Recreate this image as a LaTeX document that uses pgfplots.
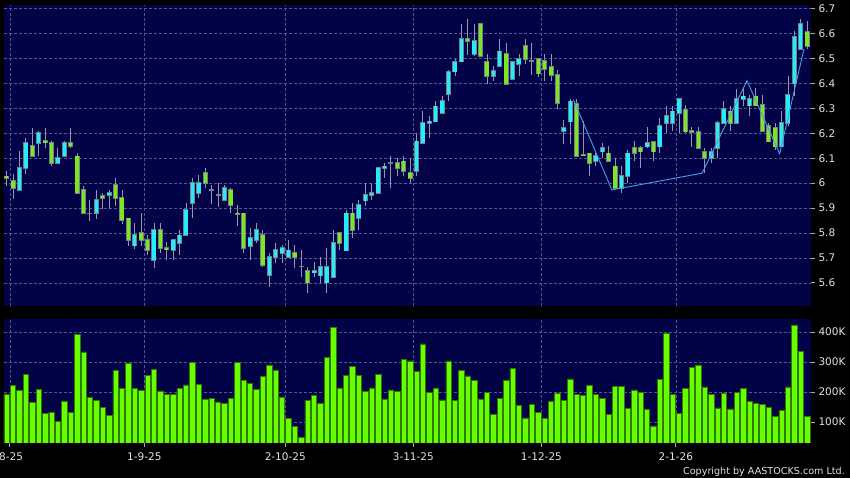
\documentclass[border=0pt]{standalone}
\usepackage{fontspec}
\setmainfont{DejaVu Sans}
\usepackage{pgfplots}
\usepackage{pgfplotstable}
\pgfplotsset{compat=1.18}
\definecolor{navy}{RGB}{2,2,70}
\definecolor{gridc}{RGB}{85,85,150}
\definecolor{upcol}{RGB}{40,235,250}
\definecolor{dncol}{RGB}{125,230,30}
\definecolor{outl}{RGB}{110,130,140}
\definecolor{wick}{RGB}{150,150,170}
\definecolor{volc}{RGB}{102,255,0}
\definecolor{vold}{RGB}{50,120,0}
\definecolor{zig}{RGB}{70,160,230}
\definecolor{lbl}{RGB}{225,225,225}

\pgfplotstableread{
i o h l c
2 5.973 6.131 5.973 6.06
3 6.06 6.183 6.037 6.161
5 6.161 6.211 6.107 6.201
8 6.08 6.141 6.08 6.1
9 6.107 6.171 6.107 6.161
13 5.879 5.933 5.85 5.879
14 5.879 5.973 5.857 5.933
16 5.952 5.973 5.897 5.96
20 5.749 5.839 5.736 5.792
23 5.692 5.839 5.661 5.812
26 5.732 5.772 5.692 5.772
27 5.759 5.812 5.712 5.79
28 5.79 5.92 5.79 5.893
29 5.92 6.022 5.859 6.0
30 5.96 6.033 5.94 6.0
32 5.973 5.993 5.917 5.973
33 5.953 6.0 5.906 5.953
34 5.933 5.993 5.933 5.98
38 5.748 5.819 5.692 5.779
39 5.772 5.839 5.759 5.812
41 5.632 5.719 5.585 5.703
42 5.703 5.758 5.678 5.732
43 5.719 5.752 5.678 5.739
44 5.702 5.772 5.698 5.73
46 5.665 5.732 5.625 5.665
48 5.641 5.685 5.624 5.649
49 5.629 5.705 5.60 5.663
50 5.601 5.739 5.561 5.663
51 5.622 5.812 5.622 5.759
53 5.729 5.892 5.729 5.879
55 5.859 5.933 5.812 5.913
56 5.93 6.0 5.909 5.952
57 5.952 6.0 5.933 5.96
58 5.96 6.06 5.96 6.06
59 6.06 6.08 6.02 6.067
60 6.08 6.11 5.98 6.08
64 6.047 6.2 6.027 6.168
65 6.161 6.288 6.161 6.241
66 6.241 6.268 6.181 6.248
67 6.247 6.329 6.247 6.308
68 6.281 6.349 6.281 6.331
69 6.357 6.456 6.329 6.448
70 6.448 6.497 6.43 6.488
71 6.488 6.64 6.488 6.578
73 6.518 6.64 6.51 6.57
76 6.431 6.47 6.409 6.451
77 6.471 6.58 6.471 6.529
79 6.418 6.488 6.418 6.488
80 6.479 6.52 6.43 6.498
82 6.491 6.561 6.436 6.491
87 6.21 6.252 6.158 6.221
88 6.247 6.338 6.158 6.328
92 6.087 6.12 6.067 6.11
93 6.127 6.161 6.101 6.141
96 5.98 6.067 5.96 6.029
97 6.027 6.134 6.0 6.12
100 6.147 6.227 6.141 6.161
102 6.147 6.261 6.12 6.23
103 6.241 6.308 6.2 6.27
104 6.241 6.308 6.208 6.288
105 6.281 6.337 6.2 6.337
110 6.1 6.141 6.08 6.127
111 6.141 6.248 6.1 6.241
112 6.241 6.329 6.241 6.297
114 6.241 6.378 6.241 6.337
115 6.337 6.382 6.311 6.348
116 6.311 6.355 6.268 6.337
121 6.147 6.288 6.147 6.241
122 6.241 6.429 6.228 6.355
123 6.399 6.609 6.35 6.586
124 6.538 6.66 6.538 6.639
}\uptab

\pgfplotstableread{
i o h l c
0 6.027 6.05 5.99 6.02
1 6.009 6.037 5.937 5.98
4 6.149 6.221 6.105 6.107
6 6.169 6.221 6.14 6.163
7 6.161 6.171 6.067 6.08
10 6.161 6.221 6.14 6.148
11 6.107 6.121 5.96 5.96
12 5.973 5.99 5.879 5.879
15 5.95 5.962 5.897 5.94
17 5.992 6.02 5.91 5.94
18 5.94 5.973 5.838 5.853
19 5.859 5.859 5.749 5.772
21 5.799 5.879 5.748 5.772
22 5.772 5.792 5.712 5.732
24 5.812 5.839 5.719 5.739
25 5.739 5.765 5.692 5.733
31 6.04 6.06 5.98 6.0
35 5.973 5.98 5.88 5.913
36 5.879 5.913 5.829 5.875
37 5.879 5.879 5.719 5.739
40 5.792 5.812 5.665 5.672
45 5.719 5.752 5.658 5.703
47 5.649 5.664 5.561 5.601
52 5.799 5.799 5.732 5.759
54 5.879 5.92 5.779 5.812
61 6.08 6.1 6.027 6.06
62 6.087 6.11 6.027 6.047
63 6.04 6.1 6.0 6.02
72 6.578 6.659 6.516 6.57
74 6.639 6.639 6.51 6.511
75 6.488 6.517 6.396 6.431
78 6.518 6.561 6.398 6.398
81 6.551 6.58 6.48 6.498
83 6.498 6.498 6.427 6.44
84 6.49 6.52 6.409 6.459
85 6.468 6.52 6.409 6.435
86 6.435 6.454 6.298 6.321
89 6.317 6.338 6.107 6.107
90 6.113 6.25 6.107 6.11
91 6.12 6.12 6.027 6.08
94 6.12 6.149 6.087 6.087
95 6.067 6.1 5.98 5.98
98 6.141 6.168 6.087 6.12
99 6.141 6.149 6.06 6.127
101 6.167 6.167 6.087 6.127
106 6.294 6.315 6.2 6.207
107 6.21 6.227 6.147 6.205
108 6.207 6.227 6.141 6.141
109 6.127 6.141 6.04 6.1
113 6.288 6.309 6.208 6.241
117 6.348 6.382 6.311 6.311
118 6.315 6.355 6.208 6.21
119 6.23 6.241 6.167 6.167
120 6.221 6.241 6.134 6.147
125 6.606 6.649 6.54 6.551
}\dntab

\pgfplotstableread{
i v
0 194
1 221
2 206
3 259
4 166
5 209
6 128
7 133
8 101
9 170
10 133
11 392
12 334
13 183
14 172
15 150
16 123
17 273
18 211
19 296
20 213
21 206
22 257
23 276
24 204
25 193
26 192
27 211
28 224
29 298
30 226
31 177
32 178
33 167
34 161
35 178
36 300
37 239
38 229
39 210
40 253
41 291
42 273
43 184
44 112
45 86
46 49
47 173
48 190
49 162
50 316
51 416
52 214
53 256
54 287
55 257
56 201
57 214
58 260
59 177
60 207
61 201
62 308
63 304
64 269
65 361
66 199
67 214
68 174
69 304
70 173
71 273
72 254
73 238
74 177
75 200
76 126
77 180
78 238
79 278
80 156
81 114
82 158
83 133
84 111
85 170
86 197
87 172
88 244
89 193
90 189
91 221
92 191
93 180
94 126
95 220
96 220
97 146
98 207
99 200
100 141
101 87
102 242
103 397
104 192
105 128
106 212
107 283
108 291
109 217
110 191
111 147
112 197
113 144
114 200
115 212
116 169
117 163
118 160
119 149
120 119
121 140
122 217
123 424
124 337
125 118
}\voltab

\pgfplotsset{
  panel/.style={
    scale only axis, width=807pt, anchor=south west,
    axis background/.style={fill=navy},
    axis line style={draw=none},
    xmin=-0.42, xmax=125.6,
    xtick={0.5,21.5,43.5,63.5,83.5,104.5},
    xmajorgrids=true, ymajorgrids=true,
    grid style={gridc, line width=0.5pt, dash pattern=on 2.5pt off 2.5pt},
    ytick pos=right, yticklabel pos=right,
    tick align=outside, major tick length=4pt,
    tick style={color=lbl!75!black, line width=0.8pt},
    ticklabel style={font=\fontsize{10.5}{12}\selectfont, text=lbl},
    /pgf/number format/assume math mode=true,
  },
  wickst/.style={draw=none, forget plot,
    error bars/.cd, y dir=plus, y explicit, error mark=none,
    error bar style={draw=wick, line width=0.9pt, solid}},
  bodyst/.style={draw=none, forget plot,
    error bars/.cd, y dir=plus, y explicit, error mark=none,
    error bar style={draw=#1, line width=5pt, solid}},
  fillst/.style={draw=none, forget plot,
    error bars/.cd, y dir=plus, y explicit, error mark=none,
    error bar style={draw=#1, line width=3.4pt, solid}},
}

\begin{document}
\begin{tikzpicture}
\fill[black] (0pt,0pt) rectangle (850pt,478pt);

\begin{axis}[panel, at={(4pt,172pt)}, height=301pt,
  ymin=5.507, ymax=6.715,
  ytick={5.6,5.7,5.8,5.9,6,6.1,6.2,6.3,6.4,6.5,6.6,6.7},
  xmajorticks=false]
  % wicks
  \addplot[wickst] table[x=i, y=l, y error plus expr={\thisrow{h}-\thisrow{l}}] {\uptab};
  \addplot[wickst] table[x=i, y=l, y error plus expr={\thisrow{h}-\thisrow{l}}] {\dntab};
  % body outlines
  \addplot[bodyst=outl] table[x=i, y expr={min(\thisrow{o},\thisrow{c})-0.003}, y error plus expr={abs(\thisrow{c}-\thisrow{o})+0.006}] {\uptab};
  \addplot[bodyst=outl] table[x=i, y expr={min(\thisrow{o},\thisrow{c})-0.003}, y error plus expr={abs(\thisrow{c}-\thisrow{o})+0.006}] {\dntab};
  % body fills
  \addplot[fillst=upcol] table[x=i, y expr={min(\thisrow{o},\thisrow{c})}, y error plus expr={abs(\thisrow{c}-\thisrow{o})}] {\uptab};
  \addplot[fillst=dncol] table[x=i, y expr={min(\thisrow{o},\thisrow{c})}, y error plus expr={abs(\thisrow{c}-\thisrow{o})}] {\dntab};
  % zigzag line
  \addplot[color=zig, line width=0.9pt, mark=none] coordinates {
    (88.5,6.335) (94.5,5.973) (108.6,6.04) (115.6,6.411) (120.7,6.118) (124.5,6.538)};
\end{axis}

\begin{axis}[panel, at={(4pt,35pt)}, height=124pt,
  ymin=30, ymax=444,
  ytick={100,200,300,400}, yticklabels={100K,200K,300K,400K},
  xtick pos=left,
  xticklabels={\makebox[0pt]{\hspace{-8pt}1-8-25},1-9-25,2-10-25,3-11-25,1-12-25,2-1-26},
  xticklabel style={yshift=-2pt}]
  \addplot[ybar, bar width=5.4pt, fill=volc, draw=vold, line width=0.6pt] table[x=i, y=v] {\voltab};
\end{axis}

\node[anchor=east, text=lbl, font=\fontsize{9.6}{11}\selectfont, inner sep=0pt] at (845pt,6.5pt) {Copyright by AASTOCKS.com Ltd.};

\pgfresetboundingbox
\useasboundingbox (0pt,0pt) rectangle (850pt,478pt);
\end{tikzpicture}
\end{document}
